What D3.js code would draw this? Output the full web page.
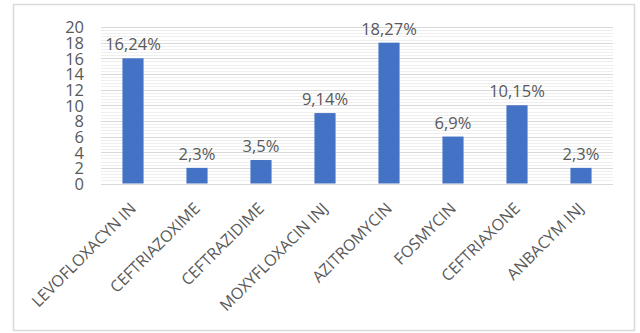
<!DOCTYPE html>
<html><head><meta charset="utf-8">
<script src="https://cdn.jsdelivr.net/npm/d3@7"></script>
<style>body{margin:0;background:#fff;}svg{display:block;}</style>
</head><body>
<svg id="c" width="640" height="333"></svg>
<script>
const categories = ["LEVOFLOXACYN IN","CEFTRIAZOXIME","CEFTRAZIDIME","MOXYFLOXACIN INJ","AZITROMYCIN","FOSMYCIN","CEFTRIAXONE","ANBACYM INJ"];
const values = [16, 2, 3, 9, 18, 6, 10, 2];
const dataLabels = ["16,24%","2,3%","3,5%","9,14%","18,27%","6,9%","10,15%","2,3%"];
const yTicks = [0,2,4,6,8,10,12,14,16,18,20];

const svg = d3.select("#c");
const font = "'Open Sans', 'Noto Sans', sans-serif";
const txt = "#595959";
// outer border
svg.append("rect").attr("x",13.5).attr("y",4.5).attr("width",621).attr("height",326)
  .attr("fill","#fff").attr("stroke","#d9d9d9").attr("stroke-width",1.5);

const x = d3.scaleBand().domain(categories).range([101,613]).paddingInner(0.67).paddingOuter(0.335);
const y = d3.scaleLinear().domain([0,20]).range([183.5,27]);

// minor gridlines
const minor = d3.range(0,20.001,0.4);
svg.append("g").selectAll("line").data(minor).join("line")
  .attr("x1",101).attr("x2",613).attr("y1",d=>Math.round(y(d))+0.5).attr("y2",d=>Math.round(y(d))+0.5)
  .attr("stroke","#efefef").attr("stroke-width",1);
// major gridlines
svg.append("g").selectAll("line").data(yTicks).join("line")
  .attr("x1",101).attr("x2",613).attr("y1",d=>Math.round(y(d))+0.5).attr("y2",d=>Math.round(y(d))+0.5)
  .attr("stroke","#d9d9d9").attr("stroke-width",1.2);

// y axis labels
const yAxis = d3.axisLeft(y).tickValues(yTicks).tickSize(0).tickPadding(0);
const ya = svg.append("g").attr("transform","translate(84,0)").call(yAxis);
ya.select(".domain").remove();
ya.selectAll("text").attr("fill",txt).style("font-family",font).style("font-size","16.5px").attr("dy","0.36em");

// bars
svg.append("g").selectAll("rect").data(values).join("rect")
  .attr("x",(d,i)=>x(categories[i])).attr("width",x.bandwidth())
  .attr("y",d=>y(d)).attr("height",d=>y(0)-y(d)).attr("fill","#4472C4");

// data labels
svg.append("g").selectAll("text").data(values).join("text")
  .attr("x",(d,i)=>x(categories[i])+x.bandwidth()/2).attr("y",d=>y(d)-8)
  .attr("text-anchor","middle").attr("fill",txt).style("font-family",font).style("font-size","16.5px")
  .text((d,i)=>dataLabels[i]);

// x axis labels
const xAxis = d3.axisBottom(x).tickSize(0).tickPadding(0);
const xa = svg.append("g").attr("transform","translate(0,"+y(0)+")").call(xAxis);
xa.select(".domain").remove();
xa.selectAll(".tick text").attr("fill",txt).style("font-family",font).style("font-size","16px")
  .attr("text-anchor","end").attr("x",0).attr("y",0).attr("dy",null)
  .attr("transform","translate(4,26) rotate(-45)");
</script>
</body></html>
